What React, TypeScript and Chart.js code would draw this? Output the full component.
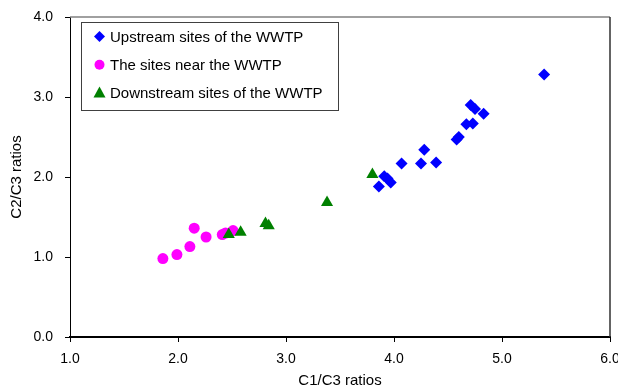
import React, { useEffect, useRef } from "react";
import { Chart, registerables } from "chart.js";

Chart.register(...registerables);

const upstreamX = [5.39, 4.71, 4.75, 4.83, 4.67, 4.73, 4.58, 4.60, 4.28, 4.07, 4.25, 4.39, 3.91, 3.94, 3.97, 3.86];
const upstreamY = [3.28, 2.90, 2.85, 2.79, 2.66, 2.67, 2.47, 2.50, 2.34, 2.17, 2.17, 2.18, 2.01, 1.98, 1.93, 1.88];

const nearX = [1.86, 1.99, 2.11, 2.15, 2.26, 2.41, 2.44, 2.51];
const nearY = [0.98, 1.03, 1.13, 1.36, 1.25, 1.28, 1.30, 1.33];

const downX = [2.47, 2.58, 2.81, 2.84, 3.38, 3.80];
const downY = [1.28, 1.31, 1.42, 1.39, 1.68, 2.03];

const seriesNames = [
  "Upstream sites of the WWTP",
  "The sites near the WWTP",
  "Downstream sites of the WWTP",
];
const seriesColors = ["#0000FF", "#FF00FF", "#008000"];
const seriesStyles = ["rectRot", "circle", "triangle"];
const seriesRadius = [6, 5.5, 7];

const xTitle = "C1/C3 ratios";
const yTitle = "C2/C3 ratios";

const FONT = "'Liberation Sans', Arial, sans-serif";

const toPoints = (xs: number[], ys: number[]) => xs.map((x, i) => ({ x, y: ys[i] }));

const frameAndLegend = {
  id: "frameAndLegend",
  afterDraw(chart: any) {
    const { ctx, chartArea } = chart;
    const { left, right, top, bottom } = chartArea;
    ctx.save();
    // top & right frame
    ctx.lineWidth = 1.5;
    ctx.strokeStyle = "#808080";
    ctx.beginPath();
    ctx.moveTo(left, top);
    ctx.lineTo(right, top);
    ctx.stroke();
    ctx.strokeStyle = "#303030";
    ctx.beginPath();
    ctx.moveTo(right, top);
    ctx.lineTo(right, bottom);
    ctx.stroke();

    // legend box
    const bx = left + 11;
    const by = top + 5;
    const bw = 257;
    const bh = 88;
    ctx.fillStyle = "#ffffff";
    ctx.fillRect(bx, by, bw, bh);
    ctx.lineWidth = 1;
    ctx.strokeStyle = "#404040";
    ctx.strokeRect(bx + 0.5, by + 0.5, bw, bh);

    ctx.font = `15px ${FONT}`;
    ctx.textBaseline = "middle";
    ctx.textAlign = "left";
    for (let i = 0; i < seriesNames.length; i++) {
      const cy = by + 14.5 + i * 28.3;
      const mx = bx + 18.5;
      ctx.fillStyle = seriesColors[i];
      ctx.strokeStyle = seriesColors[i];
      ctx.beginPath();
      if (seriesStyles[i] === "rectRot") {
        ctx.moveTo(mx, cy - 5.5);
        ctx.lineTo(mx + 5.5, cy);
        ctx.lineTo(mx, cy + 5.5);
        ctx.lineTo(mx - 5.5, cy);
        ctx.closePath();
      } else if (seriesStyles[i] === "circle") {
        ctx.arc(mx, cy, 5, 0, Math.PI * 2);
      } else {
        ctx.moveTo(mx, cy - 6.5);
        ctx.lineTo(mx + 6, cy + 4.5);
        ctx.lineTo(mx - 6, cy + 4.5);
        ctx.closePath();
      }
      ctx.fill();
      ctx.fillStyle = "#000000";
      ctx.fillText(seriesNames[i], bx + 29, cy + 1);
    }
    ctx.restore();
  },
};

export default function App() {
  const canvasRef = useRef<HTMLCanvasElement | null>(null);

  useEffect(() => {
    if (!canvasRef.current) return;
    const data = [
      toPoints(upstreamX, upstreamY),
      toPoints(nearX, nearY),
      toPoints(downX, downY),
    ];
    const order = [1, 3, 2];
    const chart = new Chart(canvasRef.current, {
      type: "scatter",
      data: {
        datasets: seriesNames.map((name, i) => ({
          label: name,
          data: data[i],
          pointStyle: seriesStyles[i] as any,
          pointRadius: seriesRadius[i],
          pointHoverRadius: seriesRadius[i],
          backgroundColor: seriesColors[i],
          borderColor: seriesColors[i],
          borderWidth: 0,
          order: order[i],
        })),
      },
      options: {
        animation: false,
        responsive: true,
        maintainAspectRatio: false,
        layout: { padding: { top: 17, right: 8, left: 0, bottom: 0 } },
        plugins: {
          legend: { display: false },
          tooltip: { enabled: false },
        },
        scales: {
          x: {
            type: "linear",
            min: 1,
            max: 6,
            ticks: {
              stepSize: 1,
              padding: 9,
              color: "#000",
              font: { family: FONT, size: 14 },
              callback: (v: any) => Number(v).toFixed(1),
            },
            grid: {
              drawOnChartArea: false,
              drawTicks: true,
              tickLength: 5,
              color: "#000",
            },
            border: { display: true, color: "#000", width: 2 },
            title: {
              display: true,
              text: xTitle,
              color: "#000",
              font: { family: FONT, size: 15 },
              padding: { top: 0, bottom: -3 },
            },
            afterFit: (scale: any) => {
              scale.height = 50;
              scale.paddingLeft = 0;
              scale.paddingRight = 0;
            },
          },
          y: {
            type: "linear",
            min: 0,
            max: 4,
            ticks: {
              stepSize: 1,
              padding: 12,
              color: "#000",
              font: { family: FONT, size: 14 },
              callback: (v: any) => Number(v).toFixed(1),
            },
            grid: {
              drawOnChartArea: false,
              drawTicks: true,
              tickLength: 5,
              color: "#000",
            },
            border: { display: true, color: "#000", width: 1 },
            title: {
              display: true,
              text: yTitle,
              color: "#000",
              font: { family: FONT, size: 15 },
              padding: { top: 8, bottom: 0 },
            },
            afterFit: (scale: any) => {
              scale.width = 70;
              scale.paddingTop = 0;
              scale.paddingBottom = 0;
            },
          },
        },
      },
      plugins: [frameAndLegend],
    });
    return () => chart.destroy();
  }, []);

  return (
    <div
      style={{
        position: "absolute",
        left: 0,
        top: 0,
        width: 618,
        height: 387,
        background: "#fff",
      }}
    >
      <canvas ref={canvasRef} />
    </div>
  );
}
